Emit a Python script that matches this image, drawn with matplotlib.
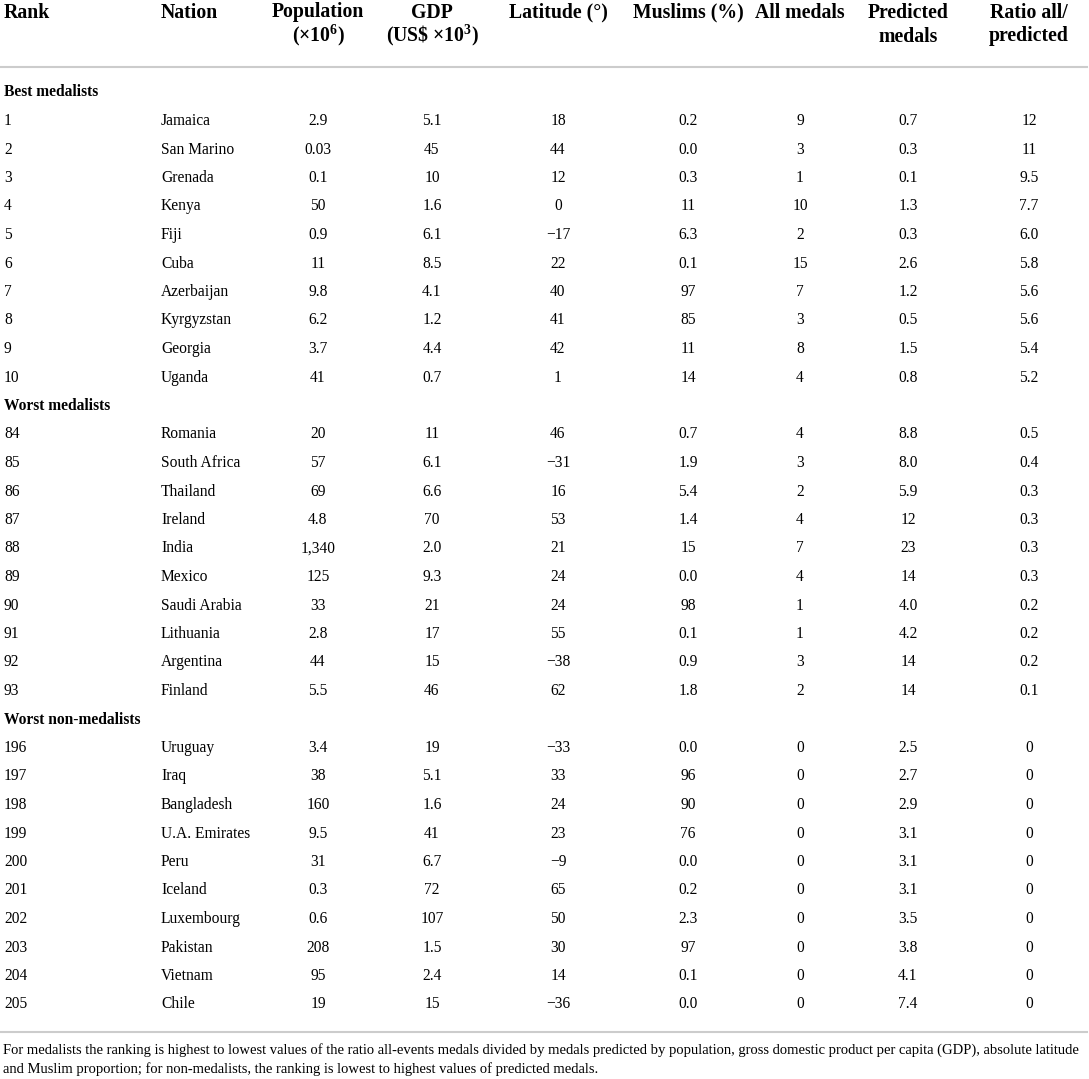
import matplotlib.pyplot as plt
from matplotlib import rcParams

rcParams['font.family'] = ['Liberation Serif', 'DejaVu Serif']
rcParams['mathtext.fontset'] = 'custom'
rcParams['mathtext.rm'] = 'Liberation Serif'
rcParams['mathtext.bf'] = 'Liberation Serif:bold'
rcParams['mathtext.default'] = 'regular'

# table data
sections = ['Best medalists', 'Worst medalists', 'Worst non-medalists']
ranks = [['1', '2', '3', '4', '5', '6', '7', '8', '9', '10'],
         ['84', '85', '86', '87', '88', '89', '90', '91', '92', '93'],
         ['196', '197', '198', '199', '200', '201', '202', '203', '204', '205']]
nations = [['Jamaica', 'San Marino', 'Grenada', 'Kenya', 'Fiji', 'Cuba', 'Azerbaijan',
            'Kyrgyzstan', 'Georgia', 'Uganda'],
           ['Romania', 'South Africa', 'Thailand', 'Ireland', 'India', 'Mexico',
            'Saudi Arabia', 'Lithuania', 'Argentina', 'Finland'],
           ['Uruguay', 'Iraq', 'Bangladesh', 'U.A. Emirates', 'Peru', 'Iceland',
            'Luxembourg', 'Pakistan', 'Vietnam', 'Chile']]
population = [['2.9', '0.03', '0.1', '50', '0.9', '11', '9.8', '6.2', '3.7', '41'],
              ['20', '57', '69', '4.8', '1,340', '125', '33', '2.8', '44', '5.5'],
              ['3.4', '38', '160', '9.5', '31', '0.3', '0.6', '208', '95', '19']]
gdp = [['5.1', '45', '10', '1.6', '6.1', '8.5', '4.1', '1.2', '4.4', '0.7'],
       ['11', '6.1', '6.6', '70', '2.0', '9.3', '21', '17', '15', '46'],
       ['19', '5.1', '1.6', '41', '6.7', '72', '107', '1.5', '2.4', '15']]
latitude = [['18', '44', '12', '0', '\u221217', '22', '40', '41', '42', '1'],
            ['46', '\u221231', '16', '53', '21', '24', '24', '55', '\u221238', '62'],
            ['\u221233', '33', '24', '23', '\u22129', '65', '50', '30', '14', '\u221236']]
muslims = [['0.2', '0.0', '0.3', '11', '6.3', '0.1', '97', '85', '11', '14'],
           ['0.7', '1.9', '5.4', '1.4', '15', '0.0', '98', '0.1', '0.9', '1.8'],
           ['0.0', '96', '90', '76', '0.0', '0.2', '2.3', '97', '0.1', '0.0']]
all_medals = [['9', '3', '1', '10', '2', '15', '7', '3', '8', '4'],
              ['4', '3', '2', '4', '7', '4', '1', '1', '3', '2'],
              ['0', '0', '0', '0', '0', '0', '0', '0', '0', '0']]
predicted = [['0.7', '0.3', '0.1', '1.3', '0.3', '2.6', '1.2', '0.5', '1.5', '0.8'],
             ['8.8', '8.0', '5.9', '12', '23', '14', '4.0', '4.2', '14', '14'],
             ['2.5', '2.7', '2.9', '3.1', '3.1', '3.1', '3.5', '3.8', '4.1', '7.4']]
ratio = [['12', '11', '9.5', '7.7', '6.0', '5.8', '5.6', '5.6', '5.4', '5.2'],
         ['0.5', '0.4', '0.3', '0.3', '0.3', '0.3', '0.2', '0.2', '0.2', '0.1'],
         ['0', '0', '0', '0', '0', '0', '0', '0', '0', '0']]

headers = [['Rank'], ['Nation'],
           ['Population', '(\u00d710$^{\\mathbf{6}}$)'],
           ['GDP', '(US\\$ \u00d710$^{\\mathbf{3}}$)'],
           ['Latitude (\u00b0)'], ['Muslims (%)'], ['All medals'],
           ['Predicted', 'medals'], ['Ratio all/', 'predicted']]
footnote = ['For medalists the ranking is highest to lowest values of the ratio all-events medals '
            'divided by medals predicted by population, gross domestic product per capita (GDP), '
            'absolute latitude',
            'and Muslim proportion; for non-medalists, the ranking is lowest '
            'to highest values of predicted medals.']

W, H = 1089, 1079
fig = plt.figure(figsize=(W / 100, H / 100), dpi=100)
ax = fig.add_axes([0, 0, 1, 1])
ax.set_xlim(0, W)
ax.set_ylim(H, 0)
ax.axis('off')

col_x = [4, 161, 318, 432, 558, 688, 800, 908, 1029]
fs = 11.2
fs_head = 14.2

# header
head_y = [17.5, 41.5]
for j, lines in enumerate(headers):
    ha = 'left' if j < 2 else 'center'
    for k, h in enumerate(lines):
        ax.text(col_x[j], head_y[k], h, ha=ha, va='baseline', fontsize=fs_head,
                fontweight='bold')
ax.plot([0, W - 2], [67, 67], color='#cccccc', lw=1.5)

# body
row_h = 28.5
y = 96.5
for s in range(3):
    ax.text(col_x[0], y, sections[s], ha='left', va='baseline', fontsize=fs,
            fontweight='bold')
    y += row_h
    cols = [ranks[s], nations[s], population[s], gdp[s], latitude[s], muslims[s],
            all_medals[s], predicted[s], ratio[s]]
    for i in range(len(ranks[s])):
        for j, c in enumerate(cols):
            ha = 'left' if j < 2 else 'center'
            ax.text(col_x[j], y, c[i], ha=ha, va='baseline', fontsize=fs)
        y += row_h

ax.plot([0, W - 2], [1032, 1032], color='#cccccc', lw=1.5)
for k, line in enumerate(footnote):
    ax.text(3, 1054 + 18.5 * k, line, ha='left', va='baseline', fontsize=10.5)

fig.savefig('out.png', dpi=100)
